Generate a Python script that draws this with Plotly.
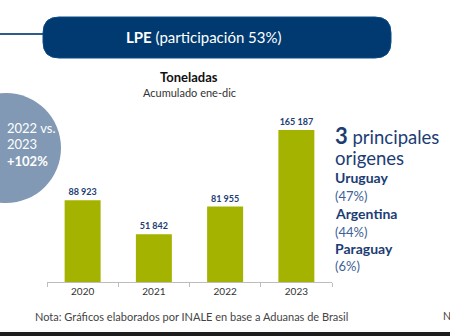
import plotly.graph_objects as go

years = ["2020", "2021", "2022", "2023"]
tons = [88923, 51842, 81955, 165187]
labels = ["88 923", "51 842", "81 955", "165 187"]
origins = ["Uruguay", "Argentina", "Paraguay"]
shares = ["(47%)", "(44%)", "(6%)"]

W, H = 450, 336
L, R, T, B = 47, 332, 98, 282  # plot area in pixels

def px(x):
    return (x - L) / (R - L)

def py(y):
    return (B - y) / (B - T)

FONT = "Lato"
DARK = "#1c3d73"
BAR = "#a4b200"

fig = go.Figure()
fig.add_trace(go.Bar(
    x=years, y=tons, text=labels, textposition="outside",
    marker=dict(color=BAR, line=dict(width=0)),
    textfont=dict(family=FONT, size=9, color=DARK, weight="bold"),
    cliponaxis=False, hoverinfo="skip",
))

shapes = []
# left connector line
shapes.append(dict(type="line", xref="paper", yref="paper",
                   x0=px(0), x1=px(44), y0=py(34), y1=py(34),
                   line=dict(color="#2c5b8d", width=2)))
# rounded banner
x0, x1, y0, y1, r = 43, 391, 17, 58, 16
path = (f"M {px(x0+r)},{py(y0)} L {px(x1-r)},{py(y0)} "
        f"Q {px(x1)},{py(y0)} {px(x1)},{py(y0+r)} L {px(x1)},{py(y1-r)} "
        f"Q {px(x1)},{py(y1)} {px(x1-r)},{py(y1)} L {px(x0+r)},{py(y1)} "
        f"Q {px(x0)},{py(y1)} {px(x0)},{py(y1-r)} L {px(x0)},{py(y0+r)} "
        f"Q {px(x0)},{py(y0)} {px(x0+r)},{py(y0)} Z")
shapes.append(dict(type="path", xref="paper", yref="paper", path=path,
                   fillcolor="#003a70", line=dict(color="#0a4a86", width=1)))
# circle
cx, cy, cr = 6, 148, 55
shapes.append(dict(type="circle", xref="paper", yref="paper",
                   x0=px(cx - cr), x1=px(cx + cr), y0=py(cy + cr), y1=py(cy - cr),
                   fillcolor="#8199b4", line=dict(width=0), layer="below"))
# bottom dark strip
shapes.append(dict(type="rect", xref="paper", yref="paper",
                   x0=px(-2), x1=px(W + 2), y0=py(H + 2), y1=py(332),
                   fillcolor="#1e1e1e", line=dict(width=0), layer="above"))

ann = []
def text(x, y, s, size, color, xanchor="left"):
    ann.append(dict(xref="paper", yref="paper", x=px(x), y=py(y), text=s,
                    showarrow=False, xanchor=xanchor, yanchor="middle",
                    font=dict(family=FONT, size=size, color=color)))

text(204, 37, "<b>LPE</b> (participación 53%)", 15, "white", "center")
text(5, 128, "2022 vs.", 13, "white")
text(5, 144, "2023", 13, "white")
text(5, 161, "<b>+102%</b>", 13, "white")
text(189, 77, "<b>Toneladas</b>", 13, "#111111", "center")
text(189, 92, "Acumulado ene-dic", 11, "#333333", "center")
text(333, 135, "<b style='font-size:22px'>3</b> principales", 18.5, DARK)
text(333, 158, "origenes", 18.5, DARK)
ys = [(177, 196), (213, 232), (248, 266)]
for o, s, (ya, yb) in zip(origins, shares, ys):
    text(333, ya, f"<b>{o}</b>", 14, DARK)
    text(333, yb, s, 13, "#3d5f96")
text(33, 316, "Nota: Gráficos elaborados por INALE en base a Aduanas de Brasil", 11, "#444444")
text(441, 316, "N", 10.5, "#444444")

fig.update_layout(
    width=W, height=H, margin=dict(l=L, r=W - R, t=T, b=H - B),
    paper_bgcolor="white", plot_bgcolor="white",
    bargap=0.495, showlegend=False,
    shapes=shapes, annotations=ann,
    xaxis=dict(type="category", range=[-0.5, 3.5], showline=True,
               linecolor="#bdbdbd", linewidth=1, ticks="outside",
               tickson="boundaries", ticklen=4, tickcolor="#bdbdbd",
               showgrid=False, fixedrange=True,
               tickfont=dict(family=FONT, size=10, color="#333333")),
    yaxis=dict(range=[0, 200000], visible=False, showgrid=False, fixedrange=True),
)

fig.write_html("out.html", config={"displayModeBar": False})
